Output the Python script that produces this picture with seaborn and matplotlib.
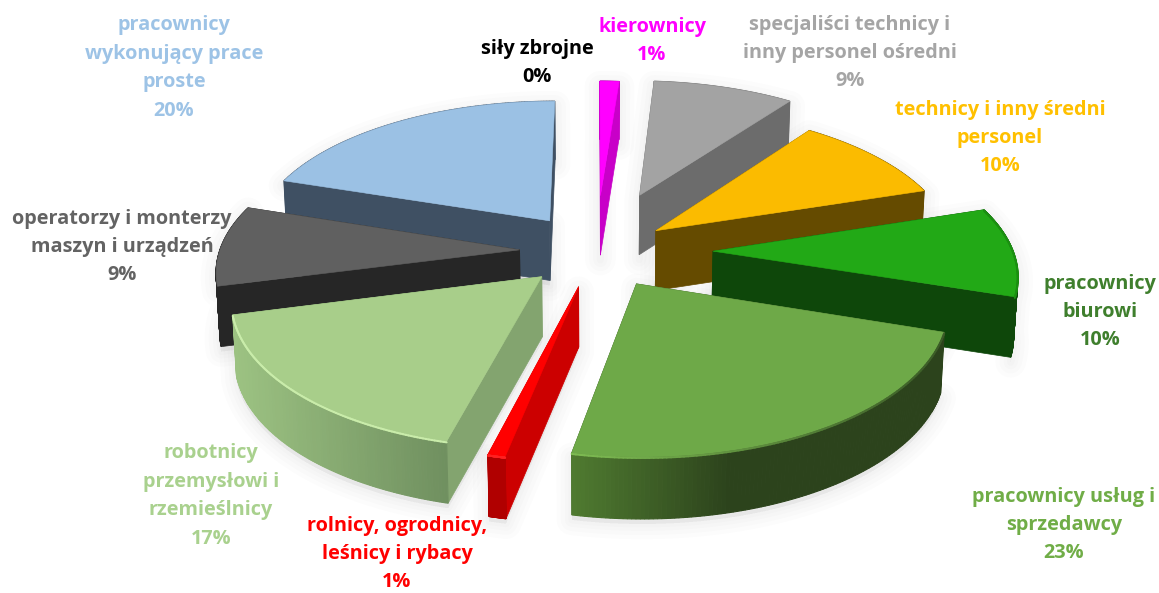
import numpy as np
import matplotlib
matplotlib.use("Agg")
import matplotlib.pyplot as plt
import seaborn as sns

sns.set_theme(style="white")
plt.rcParams['font.family'] = ['Open Sans', 'DejaVu Sans']

# Dane (zgodnie z ruchem wskazówek zegara, od godziny 12)
kategorie = ["kierownicy", "specjaliści technicy i\ninny personel ośredni",
             "technicy i inny średni\npersonel", "pracownicy\nbiurowi",
             "pracownicy usług i\nsprzedawcy", "rolnicy, ogrodnicy,\nleśnicy i rybacy",
             "robotnicy\nprzemysłowi i\nrzemieślnicy", "operatorzy i monterzy\nmaszyn i urządzeń",
             "pracownicy\nwykonujący prace\nproste", "siły zbrojne"]
wartosci = [1.2, 8.9, 10, 9.9, 23.2, 0.8, 17, 9, 20, 0]

# Kolory
kolory_gora = ["#ff00ff", "#a3a3a3", "#fbbb00", "#22a916", "#6ea948", "#ff0000",
               "#a8ce8a", "#606060", "#9bc1e4", "#000000"]
kolory_bok = ["#c800c8", "#6c6c6c", "#654b00", "#0e470a", "#3a5a26", "#cc0000",
              "#83a46f", "#262626", "#3f5063", "#000000"]
kolory_luk = [("#c800c8", "#c800c8"), ("#6c6c6c", "#6c6c6c"), ("#654b00", "#654b00"),
              ("#0e470a", "#0e470a"), ("#4f7a30", "#2c431c"), ("#b00000", "#b00000"),
              ("#9cc282", "#6f8f5f"), ("#262626", "#262626"), ("#3f5063", "#3f5063"),
              ("#000000", "#000000")]
kolory_tekst = ["#ff00ff", "#a5a5a5", "#ffc000", "#3f7f2d", "#70ad47", "#ff0000",
                "#a9d18e", "#636363", "#9dc3e6", "#000000"]
kolory_rant = [None, None, None, ("#1b8f11", "#1b8f11"), ("#7dbb52", "#3a5a26"), ("#ff2020", "#ff2020"),
               ("#c9ecaa", "#c9ecaa"), None, None, None]

# Wysunięcie kawałków
wysuniecie = [0.41, 0.44, 0.25, 0.39, 0.26, 0.25, 0.25, 0.255, 0.27, 0.0]

# Pozycje etykiet (środek bloku tekstu)
etykiety_x = [652, 850, 1000, 1100, 1064, 397, 211, 122, 174, 537]
etykiety_y = [41, 53, 138, 312, 525, 554, 496, 247, 68, 63]

# Parametry rzutu
cx, cy = 596, 251
rx, ry = 300, 142
persp = 0.127
grubosc = 60


def rzut(u, v):
    s = 1 / (1 + persp * v)
    return cx + rx * u * s, cy - ry * v * s, s


def dol(x, y, s):
    return cx + (x - cx) * 0.99, y + grubosc * s ** 0.2


fig = plt.figure(figsize=(11.59, 5.93), dpi=100)
ax = fig.add_axes([0, 0, 1, 1])
ax.set_xlim(0, 1159)
ax.set_ylim(593, 0)
ax.axis("off")

katy = 360 * np.cumsum([0] + wartosci) / sum(wartosci)
kawalki = []
for i, w in enumerate(wartosci):
    if w == 0:
        continue
    a0, a1 = np.radians(katy[i]), np.radians(katy[i + 1])
    srodek = (a0 + a1) / 2
    du, dv = wysuniecie[i] * np.sin(srodek), wysuniecie[i] * np.cos(srodek)
    t = np.linspace(a0, a1, 120)
    xa, ya, sa = rzut(du + np.sin(t), dv + np.cos(t))
    xt, yt, st = rzut(du, dv)
    xb, yb = dol(xa, ya, sa)
    xtb, ytb = dol(xt, yt, st)
    kawalki.append(dict(i=i, kolejnosc=np.cos(srodek), xa=xa, ya=ya, xb=xb, yb=yb,
                        xt=xt, yt=yt, xtb=xtb, ytb=ytb, v0=np.cos(a0), v1=np.cos(a1)))

kawalki.sort(key=lambda k: -k["kolejnosc"])

# Miękki cień pod wszystkimi kawałkami
for k in kawalki:
    xs = np.r_[k["xt"], k["xa"], k["xb"][::-1], k["xtb"]]
    ys = np.r_[k["yt"], k["ya"], k["yb"][::-1], k["ytb"]] + 5
    for lw in [22, 16, 10, 5]:
        ax.fill(xs, ys, color="black", alpha=0.012, lw=lw, zorder=1, joinstyle="round")

# Rysowanie od tyłu do przodu
z = 2
for k in kawalki:
    i = k["i"]
    # ścianka promieniowa bardziej z tyłu jako pierwsza
    for j, jv in sorted([(0, k["v0"]), (-1, k["v1"])], key=lambda p: -p[1]):
        ax.fill([k["xt"], k["xa"][j], k["xb"][j], k["xtb"]],
                [k["yt"], k["ya"][j], k["yb"][j], k["ytb"]],
                color=kolory_bok[i], lw=0.5, zorder=z)
    # ścianka zewnętrzna z gradientem po x
    lewy, prawy = kolory_luk[i]
    gradient = sns.blend_palette([lewy, prawy], 64)
    xmin, xmax = k["xa"].min(), k["xa"].max()
    if i == 4:
        xmax = xmin + (xmax - xmin) * 0.42  # dalej już ciemno
    for n in range(len(k["xa"]) - 1):
        ds = np.clip(((k["xa"][n] + k["xa"][n + 1]) / 2 - xmin) / max(xmax - xmin, 1), 0, 1)
        kol = gradient[int(ds * 63)]
        ax.fill([k["xa"][n], k["xa"][n + 1], k["xb"][n + 1], k["xb"][n]],
                [k["ya"][n], k["ya"][n + 1], k["yb"][n + 1], k["yb"][n]],
                color=kol, lw=0.8, zorder=z)
    # góra kawałka
    ax.fill(np.r_[k["xt"], k["xa"]], np.r_[k["yt"], k["ya"]],
            color=kolory_gora[i], lw=0.4, zorder=z + 0.5)
    # rant góry
    if kolory_rant[i]:
        rant = sns.blend_palette(list(kolory_rant[i]), 64)
        xmin, xmax = k["xa"].min(), k["xa"].max()
        for n in range(len(k["xa"]) - 1):
            ds = ((k["xa"][n] + k["xa"][n + 1]) / 2 - xmin) / max(xmax - xmin, 1)
            ax.plot(k["xa"][n:n + 2], k["ya"][n:n + 2] + 1, color=rant[int(ds * 63)], lw=1.5,
                    zorder=z + 0.6, solid_capstyle="round")
    z += 1

for i, nazwa in enumerate(kategorie):
    ax.text(etykiety_x[i], etykiety_y[i], f"{nazwa}\n{round(wartosci[i])}%",
            color=kolory_tekst[i], ha="center", va="center", fontsize=14.3,
            fontweight="bold", linespacing=1.56, zorder=100)

fig.savefig("out.png", dpi=100, facecolor="white")
